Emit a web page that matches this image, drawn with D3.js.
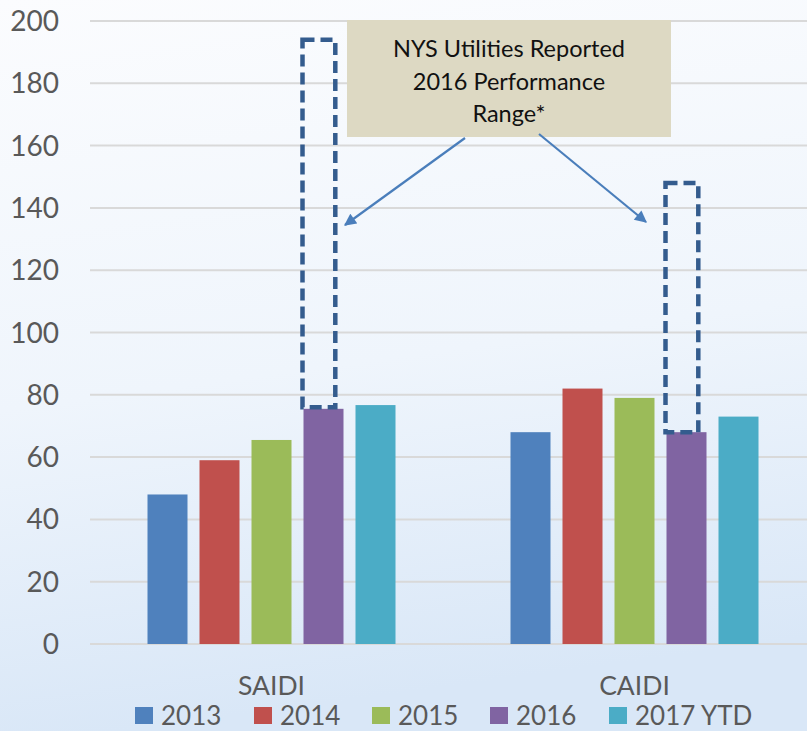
<!DOCTYPE html>
<html>
<head>
<meta charset="utf-8">
<script src="https://cdn.jsdelivr.net/npm/d3@7"></script>
<style>
  body { margin: 0; }
  svg { display: block; font-family: Lato, "Open Sans", sans-serif; }
</style>
</head>
<body>
<svg id="chart" width="807" height="731"></svg>
<script>
const categories = ['SAIDI', 'CAIDI'];
const years = ['2013', '2014', '2015', '2016', '2017 YTD'];
const saidi = [48, 59, 65.5, 75.5, 76.7];
const caidi = [68, 82, 79, 68, 73];
const rangeLow = [76, 68];    // NYS reported 2016 range
const rangeHigh = [194, 148];
const yTicks = [0, 20, 40, 60, 80, 100, 120, 140, 160, 180, 200];
const colors = ['#4f81bd', '#c0504d', '#9bbb59', '#8064a2', '#4bacc6'];
const noteLines = ['NYS Utilities Reported', '2016 Performance', 'Range*'];

const values = [saidi, caidi];

const svg = d3.select('#chart');
const W = 807, H = 731;

// background gradient
const defs = svg.append('defs');
const grad = defs.append('linearGradient').attr('id', 'bg')
  .attr('x1', 0).attr('y1', 0).attr('x2', 0.15).attr('y2', 1);
grad.append('stop').attr('offset', '0%').attr('stop-color', '#fbfcfe');
grad.append('stop').attr('offset', '55%').attr('stop-color', '#eff5fc');
grad.append('stop').attr('offset', '100%').attr('stop-color', '#d9e7f7');
svg.append('rect').attr('width', W).attr('height', H).attr('fill', 'url(#bg)');

const marker = defs.append('marker').attr('id', 'arrow')
  .attr('viewBox', '0 0 10 10').attr('refX', 9).attr('refY', 5)
  .attr('markerWidth', 6).attr('markerHeight', 5.5)
  .attr('markerUnits', 'strokeWidth')
  .attr('orient', 'auto');
marker.append('path').attr('d', 'M0,0 L10,5 L0,10 z').attr('fill', '#4a7ebb');

const groupW = 248;
const x0 = d3.scaleBand().domain(categories).range([90, 816]);
const x1 = d3.scaleBand().domain(years).range([0, groupW]).paddingInner(12 / 52);
const y = d3.scaleLinear().domain([0, 200]).range([644, 21]);
const groupOff = (x0.bandwidth() - groupW) / 2;

// gridlines
svg.append('g').selectAll('line').data(yTicks).join('line')
  .attr('x1', 90).attr('x2', W)
  .attr('y1', d => y(d)).attr('y2', d => y(d))
  .attr('stroke', '#d9d9d9').attr('stroke-width', 2);

// y tick labels
svg.append('g').selectAll('text').data(yTicks).join('text')
  .attr('x', 59).attr('y', d => y(d))
  .attr('dy', '0.36em')
  .attr('text-anchor', 'end')
  .attr('fill', '#595959')
  .style('font-size', '28px')
  .text(d => d);

// bars
const groups = svg.append('g').selectAll('g').data(categories).join('g')
  .attr('transform', c => `translate(${x0(c) + groupOff},0)`);

groups.selectAll('rect')
  .data((c, i) => values[i].map((v, j) => ({ year: years[j], v, j })))
  .join('rect')
  .attr('x', d => x1(d.year))
  .attr('y', d => y(d.v))
  .attr('width', x1.bandwidth())
  .attr('height', d => y(0) - y(d.v))
  .attr('fill', d => colors[d.j]);

// dashed range boxes over the 2016 bars
groups.append('rect')
  .attr('x', x1('2016') - 1)
  .attr('y', (c, i) => y(rangeHigh[i]))
  .attr('width', x1.bandwidth() * 0.82)
  .attr('height', (c, i) => y(rangeLow[i]) - y(rangeHigh[i]))
  .attr('fill', 'none')
  .attr('stroke', '#345c8e')
  .attr('stroke-width', 4.5)
  .attr('stroke-dasharray', '12,6');

// category labels
svg.append('g').selectAll('text').data(categories).join('text')
  .attr('x', c => x0(c) + x0.bandwidth() / 2)
  .attr('y', 695)
  .attr('text-anchor', 'middle')
  .attr('fill', '#595959')
  .style('font-size', '26.5px')
  .text(c => c);

// legend
const legendX = [135, 254, 372, 490, 609];
const legend = svg.append('g').selectAll('g').data(years).join('g')
  .attr('transform', (d, i) => `translate(${legendX[i]},725)`);
legend.append('rect')
  .attr('x', 0).attr('y', -18).attr('width', 18).attr('height', 17)
  .attr('fill', (d, i) => colors[i]);
legend.append('text')
  .attr('x', 26).attr('y', 0)
  .attr('fill', '#595959')
  .style('font-size', '26px')
  .text(d => d);

// annotation box
svg.append('rect')
  .attr('x', 347).attr('y', 20).attr('width', 324).attr('height', 117)
  .attr('fill', '#ddd9c3');
svg.append('g').selectAll('text').data(noteLines).join('text')
  .attr('x', 509).attr('y', (d, i) => 57 + i * 32.5)
  .attr('text-anchor', 'middle')
  .attr('fill', '#111')
  .style('font-size', '23.5px')
  .text(d => d);

// arrows from the box to the dashed ranges
const arrows = [
  { from: [465, 138], to: [345, 225] },
  { from: [539, 134], to: [646, 222] }
];
svg.append('g').selectAll('line').data(arrows).join('line')
  .attr('x1', d => d.from[0]).attr('y1', d => d.from[1])
  .attr('x2', d => d.to[0]).attr('y2', d => d.to[1])
  .attr('stroke', '#4a7ebb').attr('stroke-width', 2.2)
  .attr('marker-end', 'url(#arrow)');
</script>
</body>
</html>
